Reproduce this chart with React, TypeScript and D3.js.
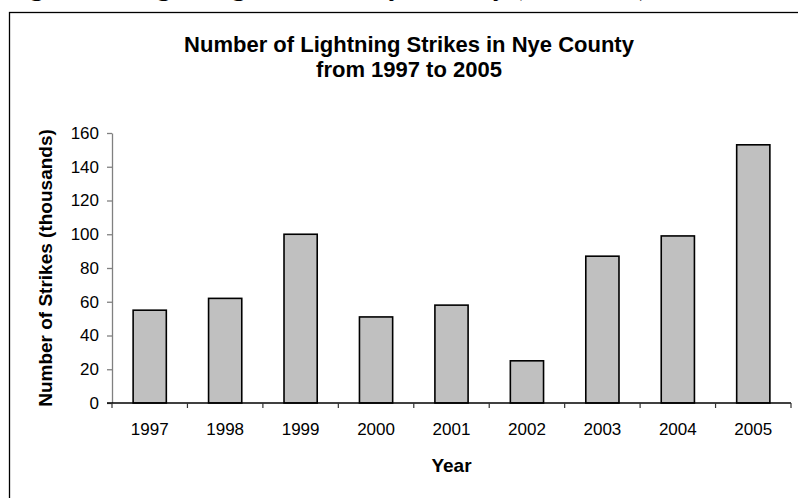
import React, { useEffect, useRef } from 'react';
import * as d3 from 'd3';

const years = ['1997', '1998', '1999', '2000', '2001', '2002', '2003', '2004', '2005'];
const strikes = [55, 62, 100, 51, 58, 25, 87, 99, 153];
const yTicks = [0, 20, 40, 60, 80, 100, 120, 140, 160];

const width = 798;
const height = 498;

const App: React.FC = () => {
  const svgRef = useRef<SVGSVGElement>(null);

  useEffect(() => {
    if (!svgRef.current) return;
    document.body.style.margin = '0';
    document.body.style.overflow = 'hidden';

    const svg = d3.select(svgRef.current);
    svg.selectAll('*').remove();

    const left = 112;
    const right = 791;
    const top = 133;
    const bottom = 403;
    const font = 'Arial, "Liberation Sans", sans-serif';

    // cropped caption above the frame, only descenders show
    svg.append('text')
      .attr('x', 6)
      .attr('y', -5)
      .attr('font-family', '"Times New Roman", "Liberation Serif", serif')
      .attr('font-weight', 'bold')
      .attr('font-size', 27)
      .attr('fill', '#000')
      .text('Figure 10: Lightning Strikes in Nye County (thousands)');

    // chart frame (runs off the right and bottom)
    svg.append('rect')
      .attr('x', 9.5)
      .attr('y', 12.5)
      .attr('width', 820)
      .attr('height', 520)
      .attr('fill', '#fff')
      .attr('stroke', '#000')
      .attr('stroke-width', 1.3);

    // Title
    const title = svg.append('text')
      .attr('text-anchor', 'middle')
      .attr('font-family', font)
      .attr('font-weight', 'bold')
      .attr('font-size', 22)
      .attr('fill', '#000');
    title.append('tspan').attr('x', 409).attr('y', 51.5).text('Number of Lightning Strikes in Nye County');
    title.append('tspan').attr('x', 409).attr('y', 76.5).text('from 1997 to 2005');

    // Scales
    const x = d3.scaleBand<string>()
      .domain(years)
      .range([left, right])
      .paddingInner(0.56)
      .paddingOuter(0.28);

    const y = d3.scaleLinear()
      .domain([0, 160])
      .range([bottom, top]);

    // Y axis
    const yAxis = svg.append('g')
      .attr('transform', `translate(${left},0)`)
      .call(d3.axisLeft(y).tickValues(yTicks).tickSize(5).tickSizeOuter(0).tickPadding(8));
    yAxis.select('.domain').attr('stroke', '#808080').attr('stroke-width', 1.3);
    yAxis.selectAll('.tick line').attr('stroke', '#808080').attr('stroke-width', 1.3);
    yAxis.selectAll('.tick text')
      .attr('font-family', font)
      .attr('font-size', 17)
      .attr('fill', '#000');

    // Bars
    svg.append('g')
      .selectAll('rect')
      .data(strikes)
      .enter().append('rect')
      .attr('x', (_, i) => x(years[i]) || 0)
      .attr('y', d => y(d))
      .attr('width', x.bandwidth())
      .attr('height', d => y(0) - y(d))
      .attr('fill', '#c0c0c0')
      .attr('stroke', '#000')
      .attr('stroke-width', 1.6);

    // X axis
    const xg = svg.append('g').attr('transform', `translate(0,${bottom})`);
    xg.append('line')
      .attr('x1', left - 5)
      .attr('x2', right)
      .attr('stroke', '#000')
      .attr('stroke-width', 1.5);
    const bounds = d3.range(years.length + 1).map(i => left + i * x.step());
    xg.selectAll('line.tk')
      .data(bounds)
      .enter().append('line')
      .attr('class', 'tk')
      .attr('x1', d => d)
      .attr('x2', d => d)
      .attr('y1', 0)
      .attr('y2', 5)
      .attr('stroke', '#333')
      .attr('stroke-width', 1.2);
    xg.selectAll('text')
      .data(years)
      .enter().append('text')
      .attr('x', d => (x(d) || 0) + x.bandwidth() / 2)
      .attr('y', 32)
      .attr('text-anchor', 'middle')
      .attr('font-family', font)
      .attr('font-size', 17)
      .attr('fill', '#000')
      .text(d => d);

    // Axis titles
    svg.append('text')
      .attr('x', (left + right) / 2)
      .attr('y', 472)
      .attr('text-anchor', 'middle')
      .attr('font-family', font)
      .attr('font-weight', 'bold')
      .attr('font-size', 19)
      .attr('fill', '#000')
      .text('Year');

    svg.append('text')
      .attr('transform', `translate(52,${(top + bottom) / 2}) rotate(-90)`)
      .attr('text-anchor', 'middle')
      .attr('font-family', font)
      .attr('font-weight', 'bold')
      .attr('font-size', 19)
      .attr('fill', '#000')
      .text('Number of Strikes (thousands)');
  }, []);

  return (
    <svg
      ref={svgRef}
      width={width}
      height={height}
      style={{ position: 'absolute', left: 0, top: 0, background: '#fff', overflow: 'hidden' }}
    />
  );
};

export default App;
